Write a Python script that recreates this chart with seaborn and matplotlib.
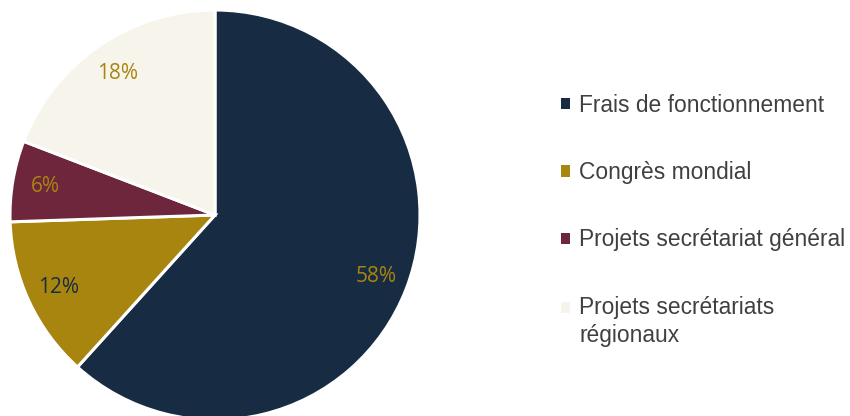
import matplotlib
matplotlib.use("Agg")
import matplotlib.pyplot as plt
import seaborn as sns

# Data
categories = ["Frais de fonctionnement", "Congrès mondial",
              "Projets secrétariat général", "Projets secrétariats\nrégionaux"]
values = [58, 12, 6, 18]
colors = ["#172c42", "#a8850f", "#6e263d", "#f7f4ec"]
label_colors = ["#a8850f", "#172c42", "#a8850f", "#a8850f"]

sns.set_theme(style="white")
plt.rcParams["font.family"] = ["Liberation Sans", "DejaVu Sans"]

fig = plt.figure(figsize=(8.5, 4.16), dpi=100)
ax = fig.add_axes([10 / 850, -4 / 416, 410 / 850, 410 / 416])

total = sum(values)
wedges, texts, autotexts = ax.pie(
    values,
    colors=colors,
    startangle=90,
    counterclock=False,
    autopct=lambda p: f"{round(p * total / 100):d}%",
    pctdistance=0.84,
    wedgeprops={"edgecolor": "white", "linewidth": 2.2},
    textprops={"fontsize": 15, "family": "Open Sans"},
)
for t, c in zip(autotexts, label_colors):
    t.set_color(c)
ax.set_xlim(-1, 1)
ax.set_ylim(-1, 1)
ax.set_aspect("equal")

leg = fig.legend(
    wedges, categories,
    loc="center left",
    bbox_to_anchor=(561 / 850, 0.47),
    frameon=False,
    fontsize=16.4,
    handlelength=0.4,
    handleheight=0.4,
    handletextpad=0.4,
    labelspacing=1.95,
    borderpad=0,
    borderaxespad=0,
)
for t in leg.get_texts():
    t.set_color("#404040")
    t.set_linespacing(1.3)
for h in leg.legend_handles:
    h.set_edgecolor("none")

# marker of the two-line entry sits next to its first line
last = leg.legend_handles[-1]
last.set_y(last.get_y() + 0.65 * 16.4)

plt.savefig("out.png", dpi=100)
